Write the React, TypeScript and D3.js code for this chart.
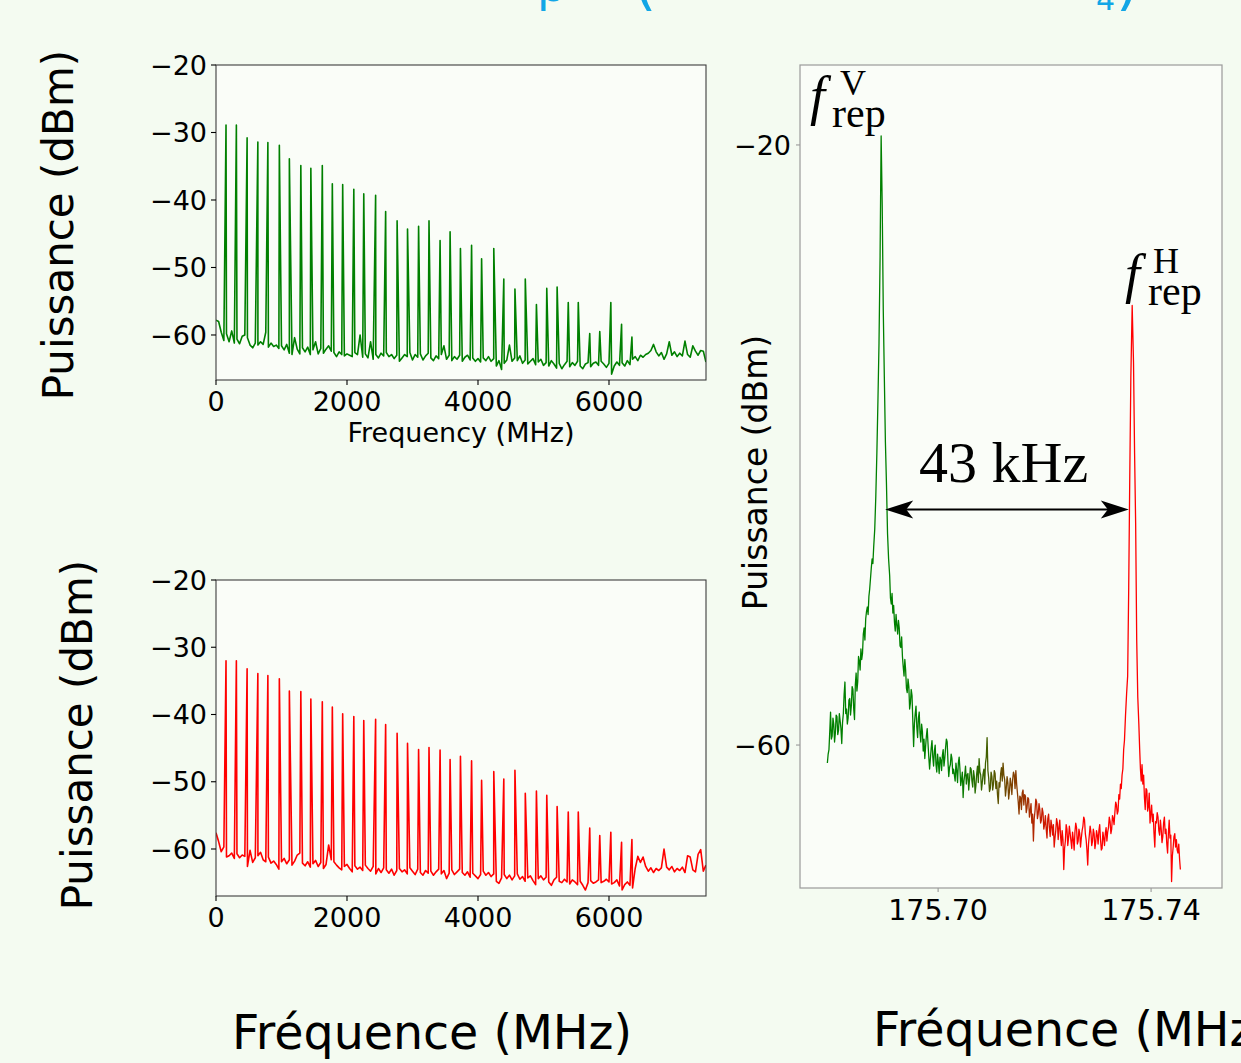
import React from 'react';
import * as d3 from 'd3';

// ---------- DATA ----------
// harmonic peak positions (MHz), shared by both comb spectra
const peakFreqs = [153, 311, 475, 639, 792, 967, 1120, 1295, 1448, 1623, 1776, 1934, 2104, 2256, 2437, 2590, 2765, 2924, 3093, 3252, 3421, 3574, 3732, 3902, 4055, 4241, 4394, 4564, 4722, 4892, 5050, 5208, 5378, 5531, 5706, 5859, 6028, 6192, 6350];
const greenPeakDb = [-28.9, -28.9, -30.8, -31.4, -31.5, -31.9, -33.9, -34.9, -35.3, -34.9, -37.6, -37.7, -38.4, -39.1, -39.3, -41.7, -43.1, -44.3, -43.9, -43.1, -46.0, -44.7, -47.2, -46.7, -48.7, -47.2, -51.7, -53.2, -51.7, -55.5, -53.1, -52.9, -55.2, -55.2, -59.8, -59.5, -55.2, -58.4, -60.3];
const redPeakDb = [-32.0, -32.0, -33.2, -33.9, -34.2, -34.7, -36.5, -36.6, -37.7, -38.1, -38.9, -39.9, -40.3, -40.9, -40.7, -41.5, -42.8, -44.3, -45.2, -44.9, -45.3, -46.7, -46.2, -46.9, -49.8, -48.5, -49.6, -48.3, -51.7, -51.4, -52.0, -53.7, -54.5, -54.5, -56.9, -58.0, -57.5, -59.0, -58.6];
// noise floor, sampled every 40 MHz from 0 to 7480 MHz
const floorFreqStep = 40;
const greenFloorDb = [
  -57.8, -58.0, -59.6, -60.8, -59.8, -61.0, -59.4, -61.2, -60.6, -61.3, -60.2, -60.0, -60.4, -61.5, -61.9, -61.2, -61.5, -61.0, -61.4, -59.6, -61.8, -61.2, -61.7, -61.5, -62.0,
  -61.6, -62.2, -61.4, -62.7, -62.9, -60.4, -62.1, -62.8, -61.9, -62.5, -61.8, -62.9, -62.2, -61.0, -62.8, -62.0, -62.7, -62.1, -61.6, -62.4, -62.6, -63.2, -62.5, -62.9, -63.1,
  -62.8, -63.0, -63.2, -62.6, -62.9, -60.0, -63.3, -62.8, -63.4, -61.0, -63.6, -62.9, -63.4, -62.7, -63.1, -62.6, -63.2, -62.9, -63.5, -63.0, -63.9, -63.4, -62.9, -63.2, -62.6,
  -63.7, -62.9, -63.3, -62.8, -63.7, -63.1, -62.7, -63.4, -63.8, -63.1, -63.5, -62.9, -61.6, -63.6, -63.0, -63.8, -63.2, -63.6, -63.0, -63.9, -63.3, -63.0, -63.7, -63.4, -63.9,
  -63.5, -64.0, -63.4, -63.8, -63.2, -63.9, -63.5, -64.6, -63.8, -65.1, -64.2, -63.7, -61.5, -63.9, -63.4, -63.8, -63.1, -64.2, -63.7, -64.3, -63.9, -63.5, -64.4, -64.0, -63.6,
  -64.5, -64.1, -64.6, -63.8, -64.3, -64.9, -64.2, -65.0, -64.4, -63.9, -64.7, -64.1, -64.5, -63.9, -64.6, -65.0, -64.3, -64.1, -64.7, -64.2, -64.0, -64.5, -63.9, -64.3, -64.8,
  -64.2, -65.8, -64.6, -64.0, -64.5, -64.1, -64.6, -63.8, -64.4, -63.6, -63.2, -63.8, -63.0, -63.3, -62.9, -62.7, -62.3, -61.4, -62.5, -63.1, -62.6, -63.6, -62.8, -61.0, -63.0,
  -62.5, -63.2, -62.7, -63.1, -60.9, -62.9, -63.3, -61.6, -62.4, -63.0, -62.3, -62.4, -64.0
];
const redFloorDb = [
  -57.6, -58.9, -60.4, -59.7, -61.2, -61.0, -60.6, -61.4, -60.7, -61.3, -60.9, -61.1, -62.6, -60.2, -62.0, -61.3, -61.0, -60.5, -61.6, -61.9, -61.2, -62.1, -61.8, -62.3, -63.0,
  -61.9, -61.4, -62.2, -61.6, -62.4, -61.8, -60.9, -60.6, -62.1, -62.5, -61.9, -62.7, -62.2, -61.7, -62.6, -62.0, -62.9, -62.3, -59.4, -61.6, -61.9, -62.4, -62.8, -63.1, -62.6,
  -62.3, -62.9, -63.4, -62.5, -63.0, -62.7, -63.2, -62.4, -62.9, -63.3, -62.6, -63.7, -62.9, -63.5, -62.8, -63.1, -63.6, -63.0, -63.9, -63.2, -62.9, -63.4, -63.1, -63.7, -62.8,
  -63.3, -63.8, -63.0, -63.5, -63.9, -63.2, -63.6, -63.3, -63.9, -63.4, -63.0, -63.7, -63.2, -64.4, -63.6, -63.1, -63.8, -63.4, -63.0, -63.5, -63.9, -63.4, -64.2, -63.6, -64.0,
  -64.4, -63.8, -63.3, -63.9, -63.5, -64.1, -63.7, -64.8, -65.1, -64.3, -63.8, -64.4, -63.9, -64.6, -64.0, -63.7, -64.5, -64.1, -64.8, -64.3, -64.0, -64.7, -65.3, -64.4, -64.0,
  -64.6, -64.2, -64.9, -65.4, -64.6, -64.2, -64.8, -65.0, -64.5, -64.9, -65.2, -64.6, -64.9, -65.3, -64.8, -65.4, -66.1, -65.0, -64.7, -65.1, -64.9, -64.6, -65.0, -64.8, -64.5,
  -64.9, -65.2, -65.0, -64.6, -65.5, -66.1, -65.3, -64.9, -65.4, -65.8, -62.9, -61.1, -62.0, -61.2, -62.6, -63.3, -62.8, -63.5, -62.9, -63.2, -62.8, -60.0, -62.7, -63.1, -62.6,
  -63.4, -62.9, -63.2, -62.7, -63.5, -61.0, -61.2, -63.1, -63.4, -60.8, -60.1, -63.3, -62.4
];
const leftXTicks = [0, 2000, 4000, 6000];
const leftYTicks = [-20, -30, -40, -50, -60];

// zoom on the fundamental beat notes: [kHz above 175.670 MHz, dBm]
const rightBaseMHz = 175.67;
const rightTrace = [
  [9.2, -61.2], [9.35, -60.6], [9.5, -60.3], [9.65, -59.1], [9.8, -57.8], [9.95, -59.6], [10.1, -59.4], [10.25, -58.2], [10.4, -58.6], [10.55, -59.8],
  [10.7, -59.2], [10.85, -58.0], [11.0, -58.1], [11.15, -59.3], [11.3, -59.0], [11.45, -57.9], [11.6, -58.4], [11.75, -58.9], [11.9, -59.9], [12.05, -58.5],
  [12.2, -57.9], [12.35, -56.6], [12.5, -55.8], [12.65, -57.9], [12.8, -57.6], [12.95, -58.6], [13.1, -58.2], [13.25, -57.0], [13.4, -56.9], [13.55, -58.0],
  [13.7, -57.4], [13.85, -56.1], [14.0, -56.3], [14.15, -57.6], [14.3, -58.3], [14.45, -56.0], [14.6, -55.2], [14.75, -56.4], [14.9, -55.8], [15.05, -54.1],
  [15.2, -54.4], [15.35, -55.0], [15.5, -53.6], [15.65, -54.3], [15.8, -53.9], [15.95, -52.6], [16.1, -52.2], [16.25, -53.0], [16.4, -51.6], [16.55, -51.1],
  [16.7, -50.8], [16.85, -51.3], [17.0, -50.1], [17.15, -49.6], [17.3, -48.9], [17.45, -48.2], [17.6, -47.6], [17.75, -47.9], [17.9, -46.8],
  [18.1, -45.6], [18.3, -43.4], [18.5, -40.5], [18.7, -37.0], [18.9, -33.2], [19.1, -27.5], [19.3, -19.4], [19.5, -24.0], [19.7, -31.0], [19.9, -35.5],
  [20.1, -39.8], [20.3, -42.6], [20.5, -45.9], [20.7, -47.6], [20.9, -48.7],
  [21.05, -50.2], [21.2, -50.6], [21.35, -49.9], [21.5, -51.2], [21.65, -50.7], [21.8, -51.8], [21.95, -52.4], [22.1, -51.3], [22.25, -52.0], [22.4, -52.6],
  [22.55, -51.7], [22.7, -52.2], [22.85, -53.4], [23.0, -53.5], [23.15, -52.8], [23.3, -54.1], [23.45, -54.8], [23.6, -55.4], [23.75, -54.3], [23.9, -55.0],
  [24.05, -56.2], [24.2, -56.5], [24.35, -55.6], [24.5, -56.1], [24.65, -57.6], [24.8, -57.2], [24.95, -56.3], [25.1, -56.7], [25.25, -58.4], [25.4, -60.1],
  [25.55, -58.6], [25.7, -57.9], [25.85, -57.4], [26.0, -58.8], [26.15, -59.5], [26.3, -58.2], [26.45, -57.8], [26.6, -59.2], [26.75, -59.8], [26.9, -58.6],
  [27.05, -59.1], [27.2, -60.4], [27.35, -59.6], [27.5, -60.9], [27.65, -60.1], [27.8, -59.4], [27.95, -58.9], [28.1, -59.9], [28.25, -60.8], [28.4, -61.6],
  [28.55, -60.9], [28.7, -60.2], [28.85, -59.7], [29.0, -60.8], [29.15, -61.4], [29.3, -60.4], [29.45, -60.0], [29.6, -61.3], [29.75, -61.8], [29.9, -60.6],
  [30.05, -61.2], [30.2, -61.9], [30.35, -60.8], [30.5, -61.0], [30.65, -61.7], [30.8, -60.7], [30.95, -60.3], [31.1, -61.4], [31.25, -60.9], [31.4, -60.2],
  [31.55, -59.6], [31.7, -59.8], [31.85, -61.1], [32.0, -62.1], [32.15, -61.5], [32.3, -61.3], [32.45, -60.6], [32.6, -60.9], [32.75, -61.9], [32.9, -61.6],
  [33.05, -62.0], [33.2, -62.4], [33.35, -61.2], [33.5, -61.7], [33.65, -62.5], [33.8, -61.2], [33.95, -60.8], [34.1, -61.6], [34.25, -62.7], [34.4, -62.3],
  [34.55, -61.8], [34.7, -63.5], [34.85, -62.4],
  [35.0, -62.0], [35.15, -61.4], [35.3, -62.6], [35.45, -62.0], [35.6, -61.9], [35.75, -63.0], [35.9, -62.3], [36.05, -61.5], [36.2, -61.6], [36.35, -62.4],
  [36.5, -62.8], [36.65, -61.7], [36.8, -62.1], [36.95, -63.2], [37.1, -62.7], [37.25, -61.9], [37.4, -61.4], [37.55, -62.5], [37.7, -60.9], [37.85, -61.8],
  [38.0, -62.0], [38.15, -63.0], [38.3, -62.5], [38.45, -61.9], [38.6, -61.6], [38.75, -62.6], [38.9, -61.2], [39.05, -60.8], [39.2, -59.5], [39.35, -61.7],
  [39.5, -62.2], [39.65, -63.1], [39.8, -62.9], [39.95, -61.8], [40.1, -62.1], [40.25, -63.0], [40.4, -62.6], [40.55, -61.7], [40.7, -61.9], [40.85, -62.9],
  [41.0, -62.4], [41.15, -63.3], [41.3, -63.9], [41.45, -62.5], [41.6, -62.8], [41.75, -61.9], [41.9, -61.5], [42.05, -62.4], [42.2, -61.2], [42.35, -62.0],
  [42.5, -62.3], [42.65, -63.4], [42.8, -62.9], [42.95, -62.1], [43.1, -62.5], [43.25, -63.6], [43.4, -63.1], [43.55, -62.2], [43.7, -62.6], [43.85, -63.3],
  [44.0, -62.3], [44.15, -61.8], [44.3, -62.0], [44.45, -62.9], [44.6, -61.7], [44.75, -62.6], [44.9, -63.2], [45.05, -63.8], [45.2, -64.6], [45.35, -63.4],
  [45.5, -63.5], [45.65, -64.3], [45.8, -63.2], [45.95, -63.0],
  [46.1, -64.0], [46.25, -63.3], [46.4, -63.4], [46.55, -64.5], [46.7, -64.2], [46.85, -63.5], [47.0, -63.6], [47.15, -64.8], [47.3, -64.4], [47.45, -63.9],
  [47.6, -65.2], [47.75, -64.6], [47.9, -66.4], [48.05, -64.9], [48.2, -64.4], [48.35, -63.6], [48.5, -63.8], [48.65, -64.9], [48.8, -64.6], [48.95, -63.9],
  [49.1, -64.3], [49.25, -65.2], [49.4, -65.0], [49.55, -64.2], [49.7, -64.5], [49.85, -65.6], [50.0, -65.3], [50.15, -64.7], [50.3, -65.6], [50.45, -66.2],
  [50.6, -64.9], [50.75, -64.6], [50.9, -65.5], [51.05, -66.1], [51.2, -65.0], [51.35, -65.4], [51.5, -66.0], [51.65, -65.3], [51.8, -66.8], [51.95, -66.2],
  [52.1, -65.7], [52.25, -64.9], [52.4, -65.2], [52.55, -66.3], [52.7, -65.5], [52.85, -65.0], [53.0, -66.1], [53.15, -66.7], [53.3, -65.7], [53.45, -66.3],
  [53.6, -68.3], [53.75, -66.9], [53.9, -66.4], [54.05, -65.3], [54.2, -65.6], [54.35, -66.7], [54.5, -66.2], [54.65, -65.4], [54.8, -65.9], [54.95, -66.4],
  [55.1, -66.9], [55.25, -65.8], [55.4, -66.3], [55.55, -67.0], [55.7, -65.8], [55.85, -65.2], [56.0, -65.5], [56.15, -66.6], [56.3, -66.4], [56.45, -65.6],
  [56.6, -65.9], [56.75, -66.8], [56.9, -66.2], [57.05, -65.7], [57.2, -65.4], [57.35, -64.8], [57.5, -65.0], [57.65, -65.9], [57.8, -66.3], [57.95, -67.0],
  [58.1, -68.0], [58.25, -66.6], [58.4, -66.0], [58.55, -65.4], [58.7, -65.8], [58.85, -66.7], [59.0, -66.4], [59.15, -65.6], [59.3, -65.9], [59.45, -66.9],
  [59.6, -66.5], [59.75, -65.7], [59.9, -66.0], [60.05, -66.6], [60.2, -65.7], [60.35, -65.3], [60.5, -66.3], [60.65, -67.0], [60.8, -66.9], [60.95, -65.8],
  [61.1, -66.2], [61.25, -66.7], [61.4, -65.9], [61.55, -65.5], [61.7, -66.4], [61.85, -65.8], [62.0, -65.5], [62.15, -64.8], [62.3, -65.1], [62.45, -65.9],
  [62.6, -65.6], [62.75, -64.7], [62.9, -64.9], [63.05, -65.3], [63.2, -64.5], [63.35, -63.8], [63.5, -64.0], [63.65, -64.6], [63.8, -64.4], [63.95, -63.3],
  [64.1, -63.6], [64.25, -62.6], [64.4, -62.9], [64.55, -62.0], [64.7, -61.6], [64.85, -60.3], [65.0, -59.7],
  [65.2, -58.0], [65.4, -56.6], [65.6, -55.4], [65.8, -49.5], [66.0, -42.0], [66.2, -35.5], [66.45, -30.7], [66.7, -34.5], [66.9, -40.5], [67.1, -45.2],
  [67.3, -53.0], [67.5, -56.8], [67.7, -58.6], [67.85, -60.2],
  [68.0, -61.6], [68.15, -62.4], [68.3, -61.3], [68.45, -62.6], [68.6, -62.0], [68.75, -63.5], [68.9, -64.3], [69.05, -62.9], [69.2, -63.0], [69.35, -64.4],
  [69.5, -64.1], [69.65, -63.2], [69.8, -65.2], [69.95, -64.6], [70.1, -64.0], [70.25, -65.1], [70.4, -64.6], [70.55, -65.9], [70.7, -66.8], [70.85, -65.1],
  [71.0, -65.2], [71.15, -64.5], [71.3, -64.8], [71.45, -65.7], [71.6, -66.0], [71.75, -65.0], [71.9, -65.6], [72.05, -66.5], [72.2, -66.1], [72.35, -65.2],
  [72.5, -64.8], [72.65, -65.9], [72.8, -65.6], [72.95, -66.6], [73.1, -67.2], [73.25, -65.9], [73.4, -65.0], [73.55, -66.2], [73.7, -66.0], [73.85, -69.1],
  [74.0, -67.4], [74.15, -66.8], [74.3, -66.1], [74.45, -65.9], [74.6, -66.8], [74.75, -66.3], [74.9, -67.0], [75.05, -67.2], [75.2, -66.6], [75.35, -67.6],
  [75.5, -68.3]
];
const rightXTicks = [175.70, 175.74];
const rightYTicks = [-20, -60];
const colorShiftKHz = [34, 54]; // green -> red transition of the trace
const arrowKHz = [20.06, 65.82];
const arrowDb = -44.3;

// ---------- STYLE ----------
const W = 1241;
const H = 1063;
const PAGE_BG = '#f4fbf1';
const FACE_BG = '#fafdf8';
const GREEN = '#008000';
const RED = '#ff0000';
const SANS = 'DejaVu Sans, Liberation Sans, sans-serif';
const SERIF = 'Liberation Serif, DejaVu Serif, serif';
const MINUS = (v: number) => (v < 0 ? '\u2212' + Math.abs(v) : String(v));

type LeftProps = {
  id: string;
  top: number;
  bottom: number;
  yMin: number;
  peaks: number[];
  floor: number[];
  color: string;
  showXLabel: boolean;
};

function LeftPanel({ id, top, bottom, yMin, peaks, floor, color, showXLabel }: LeftProps) {
  const left = 216;
  const right = 706;
  const x = d3.scaleLinear().domain([0, 7481]).range([left, right]);
  const y = d3.scaleLinear().domain([yMin, -20]).range([bottom, top]);
  const pts = floor
    .map((v, i) => ({ f: i * floorFreqStep, db: v }))
    .concat(peakFreqs.map((f, k) => ({ f, db: peaks[k] })))
    .sort((a, b) => a.f - b.f);
  const line = d3
    .line<{ f: number; db: number }>()
    .x((d) => x(d.f))
    .y((d) => y(d.db));
  return (
    <g>
      <defs>
        <clipPath id={id}>
          <rect x={left} y={top} width={right - left} height={bottom - top} />
        </clipPath>
      </defs>
      <rect x={left} y={top} width={right - left} height={bottom - top} fill={FACE_BG} />
      <path d={line(pts) || ''} fill="none" stroke={color} strokeWidth={1.6} strokeLinejoin="round" clipPath={`url(#${id})`} />
      <rect x={left} y={top} width={right - left} height={bottom - top} fill="none" stroke="#3c3c3c" strokeWidth={1.1} />
      {leftYTicks.map((t) => (
        <g key={'y' + t}>
          <line x1={left - 5} x2={left} y1={y(t)} y2={y(t)} stroke="#000" strokeWidth={1.1} />
          <text x={left - 9} y={y(t)} dy="0.36em" textAnchor="end" fontSize={27} fontFamily={SANS} fill="#000">
            {MINUS(t)}
          </text>
        </g>
      ))}
      {leftXTicks.map((t) => (
        <g key={'x' + t}>
          <line x1={x(t)} x2={x(t)} y1={bottom} y2={bottom + 5} stroke="#000" strokeWidth={1.1} />
          <text x={x(t)} y={bottom + 31} textAnchor="middle" fontSize={27} fontFamily={SANS} fill="#000">
            {MINUS(t)}
          </text>
        </g>
      ))}
      {showXLabel && (
        <text x={(left + right) / 2} y={bottom + 62} textAnchor="middle" fontSize={27} fontFamily={SANS} fill="#000">
          Frequency (MHz)
        </text>
      )}
    </g>
  );
}

function RightPanel() {
  const left = 800;
  const right = 1222;
  const top = 65;
  const bottom = 888;
  const x = d3.scaleLinear().domain([175.67406, 175.75332]).range([left, right]);
  const y = d3.scaleLinear().domain([-69.53, -14.67]).range([bottom, top]);
  const fx = (k: number) => x(rightBaseMHz + k / 1000);
  const line = d3
    .line<number[]>()
    .x((d) => fx(d[0]))
    .y((d) => y(d[1]));
  const ax1 = fx(arrowKHz[0]);
  const ax2 = fx(arrowKHz[1]);
  const ay = y(arrowDb);
  const head = (tipX: number, dir: number) =>
    `M${tipX},${ay} L${tipX + dir * 28},${ay - 9} L${tipX + dir * 21},${ay} L${tipX + dir * 28},${ay + 9} Z`;
  return (
    <g>
      <defs>
        <linearGradient id="gr" gradientUnits="userSpaceOnUse" x1={fx(colorShiftKHz[0])} x2={fx(colorShiftKHz[1])} y1={0} y2={0}>
          <stop offset="0" stopColor={GREEN} />
          <stop offset="1" stopColor={RED} />
        </linearGradient>
      </defs>
      <rect x={left} y={top} width={right - left} height={bottom - top} fill={FACE_BG} />
      <path d={line(rightTrace) || ''} fill="none" stroke="url(#gr)" strokeWidth={1.3} strokeLinejoin="round" />
      <rect x={left} y={top} width={right - left} height={bottom - top} fill="none" stroke="#9a9a9a" strokeWidth={1.2} />
      {rightYTicks.map((t) => (
        <g key={'ry' + t}>
          <line x1={left - 4} x2={left} y1={y(t)} y2={y(t)} stroke="#9a9a9a" strokeWidth={1.1} />
          <text x={left - 9} y={y(t)} dy="0.36em" textAnchor="end" fontSize={27} fontFamily={SANS} fill="#000">
            {MINUS(t)}
          </text>
        </g>
      ))}
      {rightXTicks.map((t) => (
        <g key={'rx' + t}>
          <line x1={x(t)} x2={x(t)} y1={bottom} y2={bottom + 4} stroke="#9a9a9a" strokeWidth={1.1} />
          <text x={x(t)} y={bottom + 32} textAnchor="middle" fontSize={28.5} fontFamily={SANS} fill="#000">
            {t.toFixed(2)}
          </text>
        </g>
      ))}
      {/* annotations */}
      <text fontFamily={SERIF} fill="#000">
        <tspan x={810} y={114} fontSize={54} fontStyle="italic">f</tspan>
        <tspan x={840} y={95} fontSize={36}>V</tspan>
        <tspan x={832} y={127} fontSize={42}>rep</tspan>
      </text>
      <text fontFamily={SERIF} fill="#000">
        <tspan x={1125} y={292} fontSize={54} fontStyle="italic">f</tspan>
        <tspan x={1153} y={273} fontSize={36}>H</tspan>
        <tspan x={1148} y={305} fontSize={42}>rep</tspan>
      </text>
      <text x={919} y={482} fontFamily={SERIF} fontSize={58} fill="#000">
        43 kHz
      </text>
      <line x1={ax1 + 10} x2={ax2 - 10} y1={ay} y2={ay} stroke="#000" strokeWidth={2} />
      <path d={head(ax1, 1)} fill="#000" />
      <path d={head(ax2, -1)} fill="#000" />
      <text transform={`translate(767,472.5) rotate(-90)`} textAnchor="middle" fontSize={33} fontFamily={SANS} fill="#000">
        Puissance (dBm)
      </text>
    </g>
  );
}

export default function App() {
  return (
    <div style={{ position: 'absolute', left: 0, top: 0, width: W, height: H, overflow: 'hidden' }}>
      <svg width={W} height={H} viewBox={`0 0 ${W} ${H}`} style={{ display: 'block' }}>
        <rect x={0} y={0} width={W} height={H} fill={PAGE_BG} />
        {/* title, almost entirely cut off by the top edge: only descenders remain */}
        <text fontFamily={SANS} fill="#12a6e6" fontSize={46}>
          <tspan x={537} y={1.4}>p</tspan>
          <tspan x={633} y={3} fontSize={60}>(</tspan>
          <tspan x={1096} y={10} fontSize={30}>4</tspan>
          <tspan x={1116} y={3} fontSize={60}>)</tspan>
        </text>
        <LeftPanel id="c1" top={65} bottom={380} yMin={-66.67} peaks={greenPeakDb} floor={greenFloorDb} color={GREEN} showXLabel={true} />
        <LeftPanel id="c2" top={580} bottom={896} yMin={-66.99} peaks={redPeakDb} floor={redFloorDb} color={RED} showXLabel={false} />
        <RightPanel />
        <text transform="translate(73,225) rotate(-90)" textAnchor="middle" fontSize={42} fontFamily={SANS} fill="#000">
          Puissance (dBm)
        </text>
        <text transform="translate(92,735) rotate(-90)" textAnchor="middle" fontSize={42} fontFamily={SANS} fill="#000">
          Puissance (dBm)
        </text>
        <text x={232} y={1049} fontSize={48} fontFamily={SANS} fill="#000" textLength={400} lengthAdjust="spacingAndGlyphs">
          Fréquence (MHz)
        </text>
        <text x={873} y={1046} fontSize={48} fontFamily={SANS} fill="#000" textLength={400} lengthAdjust="spacingAndGlyphs">
          Fréquence (MHz)
        </text>
      </svg>
    </div>
  );
}
